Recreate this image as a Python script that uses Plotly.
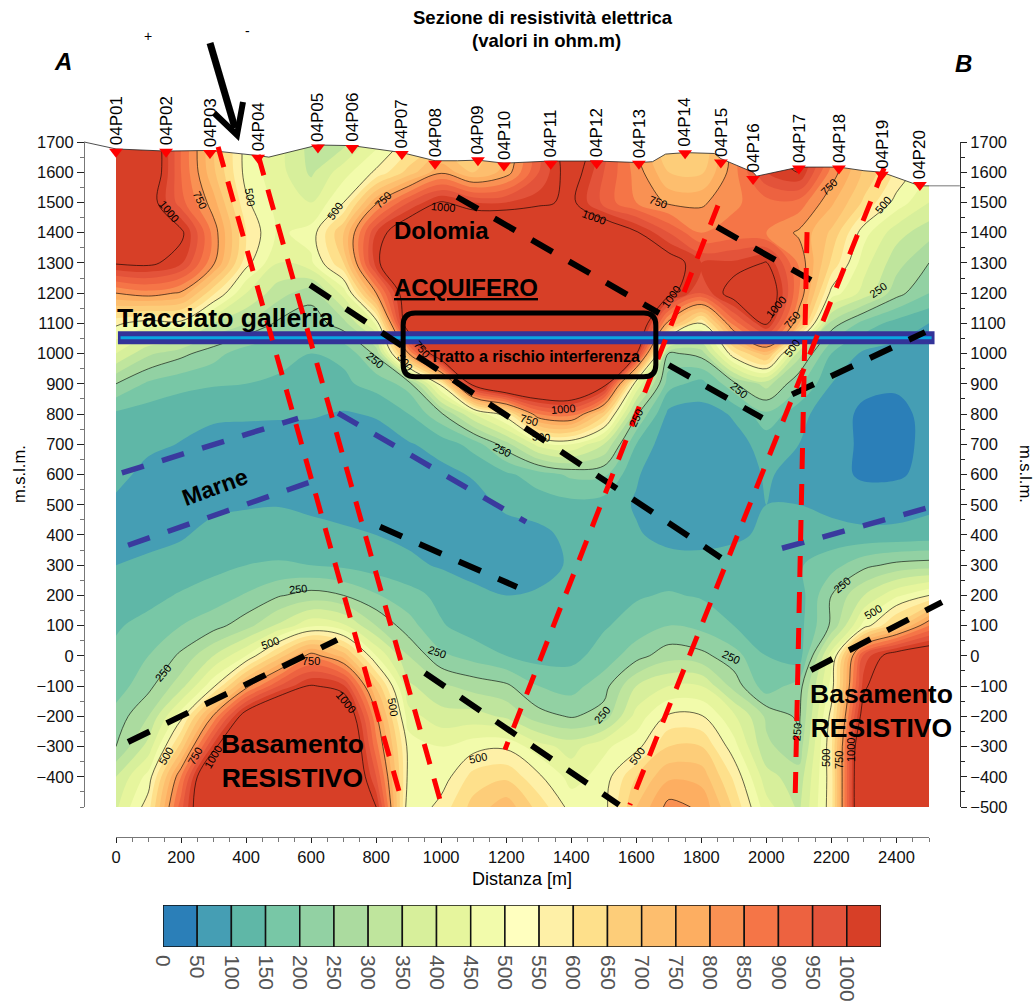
import plotly.graph_objects as go

W, H = 1034, 1005
FONT = "Liberation Sans"

# ---- data ----
DIST = list(range(0, 2600, 100))
ELEV = list(range(1700, -600, -100))
RES = [
 [1200,1100,850,650,480,420,330,330,430,520,600,620,680,900,1080,950,740,600,600,780,1000,1020,850,640,560,480],
 [1200,1100,850,660,480,420,340,430,510,620,740,650,720,900,1050,900,780,650,640,780,950,1000,780,640,540,450],
 [1200,1050,870,720,510,430,400,500,740,900,1010,950,950,980,1020,880,800,740,740,790,830,830,710,590,480,400],
 [1200,1100,1020,780,550,440,470,650,950,1100,1150,1150,1150,1150,1150,1100,1010,900,800,820,800,740,640,470,370,320],
 [1010,1020,960,760,520,400,440,600,980,1150,1200,1200,1200,1200,1200,1200,1150,1050,950,960,1005,790,590,420,320,250],
 [750,780,740,560,400,320,270,420,750,1100,1200,1200,1200,1200,1200,1200,1200,1030,900,1050,1100,800,480,380,270,200],
 [510,470,480,350,300,240,220,280,460,1100,1200,1200,1200,1200,1200,1200,1150,720,500,820,1010,700,280,180,130,100],
 [400,310,265,220,170,160,150,160,260,750,1130,1200,1200,1200,1200,1200,1010,240,270,540,680,320,150,90,80,70],
 [250,190,165,155,150,145,135,140,170,220,520,1050,1200,1200,1200,1050,450,170,130,240,320,210,100,62,55,65],
 [140,125,115,105,105,105,105,95,105,150,240,400,530,800,830,620,260,85,80,105,190,115,72,40,40,60],
 [125,110,98,90,85,80,75,70,75,95,120,170,280,420,450,350,150,60,60,85,115,100,72,40,40,58],
 [115,85,75,70,70,70,70,70,70,75,85,105,140,175,210,210,105,65,60,75,105,85,62,44,44,62],
 [90,80,80,90,95,98,88,80,75,70,75,80,110,125,135,125,95,70,70,80,100,100,85,70,75,90],
 [80,85,95,115,125,125,120,110,100,90,85,80,78,85,115,120,105,85,80,90,110,120,120,115,115,120],
 [100,110,120,135,150,155,150,140,125,110,95,85,80,85,105,120,125,120,120,125,130,145,180,235,265,275],
 [120,135,155,175,205,245,270,250,205,170,135,110,100,105,110,125,145,155,145,130,115,125,250,350,440,500],
 [145,165,200,230,280,360,440,410,300,220,155,125,110,105,120,145,170,200,185,150,115,130,260,470,620,800],
 [160,200,260,350,450,620,780,680,450,300,210,180,150,130,135,170,230,280,265,220,150,120,430,920,1060,1100],
 [175,235,330,490,730,900,1010,960,640,360,310,280,260,200,180,230,350,400,400,280,170,225,470,980,1150,1200],
 [220,300,480,760,1060,1200,1200,1130,760,420,370,370,340,270,245,270,420,510,505,410,290,240,520,1060,1300,1300],
 [250,370,620,970,1250,1300,1300,1200,820,480,450,480,490,420,380,440,480,600,600,470,310,270,540,1170,1300,1300],
 [350,470,800,1200,1300,1300,1300,1200,900,480,470,570,590,510,430,470,600,690,680,540,370,320,530,1200,1300,1300],
 [390,530,880,1200,1300,1300,1300,1200,1000,450,520,620,680,580,480,480,650,770,740,590,420,340,530,1200,1300,1300],
]

LEVELS = list(range(0, 1050, 50))
LEVEL_COLORS = ["#2b7fb8","#459eb4","#5fb7a7","#78c7a6","#92d1a3","#abdb9f","#bfe59d",
                "#d7ef9b","#e6f59d","#f2fbab","#ffffbf","#fef0a7","#fee08b","#fdcd79",
                "#fdbe6e","#fdae61","#f99153","#f57547","#ed6240","#e3533a","#d73f27"]

STATIONS = ["04P%02d" % i for i in range(1, 21)]
STATION_X = [0,154,289,437,621,726,879,981,1113,1193,1337,1478,1608,1750,1860,1959,2100,2223,2355,2472]
STATION_Z = [1668,1668,1664,1648,1682,1680,1660,1628,1640,1622,1628,1630,1628,1663,1632,1578,1612,1612,1592,1558]

TOPO_X = [-98,0,154,289,437,470,621,726,879,981,1050,1113,1193,1337,1478,1608,1650,1690,1750,1840,1860,1959,1970,2100,2223,2300,2355,2472,2500]
TOPO_Z = [1700,1677,1670,1672,1655,1650,1690,1688,1665,1638,1638,1640,1630,1637,1637,1632,1635,1660,1665,1662,1645,1600,1587,1617,1617,1605,1600,1555,1555]

FAULTS_RED = [([314,882],[1684,-493]),([437,1005],[1657,-510]),([1851,1196],[1490,-310]),
              ([2362,1580],[1614,-493]),([2125,2088],[1402,-493])]
LIMITS_BLACK = [([1049,1670],[1518,1134]),([1848,2137],[1419,1243]),([597,1860],[1227,325]),
                ([1700,1987],[962,787]),([2079,2488],[865,1071]),([812,1233],[427,228]),
                ([37,680],[-285,53]),([950,1547],[-57,-493]),([2137,2540],[-47,178])]
LIMITS_BLUE = [([18,560],[605,786]),([37,603],[366,577]),([683,1261],[803,443]),([2048,2494],[356,489])]
TUNNEL_X, TUNNEL_Z = [6,2517], [1052,1052]
TUNNEL_CORE_X = [14,2508]

# contour labels as seen on the picture: page x, page y, text, angle
CONTOUR_LABELS = [
 (169,211,"1000",50),(200,200,"750",65),(250,197,"500",82),(335,211,"500",-55),(383,200,"750",-45),
 (443,207,"1000",5),(658,202,"750",20),(594,217,"1000",20),(671,297,"1000",-55),(776,307,"1000",-50),
 (792,320,"750",-50),(829,187,"750",-45),(883,205,"500",-50),(878,290,"250",-35),(375,360,"250",40),
 (405,362,"500",55),(422,349,"750",50),(502,450,"250",25),(298,589,"250",-5),(270,643,"500",-20),
 (311,661,"750",0),(437,652,"250",20),(163,673,"250",-50),(166,756,"500",-60),(195,756,"750",-60),
 (213,757,"1000",-60),(346,702,"1000",50),(393,707,"500",80),(478,758,"500",-12),(563,409,"1000",-5),
 (529,420,"750",15),(541,437,"500",5),(636,418,"250",-65),(739,390,"250",40),(792,348,"500",-55),
 (842,585,"250",-40),(873,612,"500",-30),(731,657,"250",25),(602,715,"250",-50),(637,756,"500",-55),
 (797,732,"250",-85),(826,758,"500",-90),(839,760,"750",-90),(851,750,"1000",-90),
]

# ---- helpers for page positions ----
def px(x): return x / W
def py(y): return 1 - y / H
SX = 813 / 2500       # pixels per metre, horizontal
SY = 665 / 2200       # pixels per metre, vertical
def mx(p): return (p - 116) / SX
def my(p): return 1700 - (p - 142) / SY

fig = go.Figure()

n = len(LEVEL_COLORS)
cscale = []
for i, c in enumerate(LEVEL_COLORS):
    cscale += [[i / n, c], [(i + 1) / n, c]]

fig.add_trace(go.Contour(
    x=DIST, y=ELEV, z=RES, colorscale=cscale, zmin=0, zmax=1050, showscale=False,
    autocontour=False, contours=dict(start=0, end=1000, size=50, coloring="fill", showlines=False),
    line=dict(width=0, smoothing=1), hoverinfo="skip"))
fig.add_trace(go.Contour(
    x=DIST, y=ELEV, z=RES, showscale=False, autocontour=False,
    contours=dict(start=250, end=1000, size=250, coloring="none", showlabels=False),
    line=dict(width=0.6, color="black", smoothing=1), hoverinfo="skip"))

# white mask above the ground surface
mask_x = [a for a in TOPO_X if a >= 0]
mask_z = TOPO_Z[-len(mask_x):]
fig.add_trace(go.Scatter(x=mask_x + [2500, 0], y=mask_z + [1725, 1725], mode="lines",
                         fill="toself", fillcolor="white", line=dict(width=0), hoverinfo="skip"))
fig.add_trace(go.Scatter(x=TOPO_X, y=TOPO_Z, mode="lines", line=dict(color="#222", width=0.8), hoverinfo="skip"))
fig.add_trace(go.Scatter(x=[2500, 2595], y=[1555, 1555], mode="lines", line=dict(color="#777", width=1), hoverinfo="skip"))

def dashes(lines, color, width, dash):
    for xs, zs in lines:
        fig.add_trace(go.Scatter(x=xs, y=zs, mode="lines", hoverinfo="skip",
                                 line=dict(color=color, width=width, dash=dash)))

fig.add_trace(go.Scatter(x=TUNNEL_X, y=TUNNEL_Z, mode="lines", hoverinfo="skip", line=dict(color="#333399", width=13)))
fig.add_trace(go.Scatter(x=TUNNEL_CORE_X, y=TUNNEL_Z, mode="lines", hoverinfo="skip", line=dict(color="#0aa5e0", width=3)))
dashes(LIMITS_BLUE, "#3a3a9e", 5.5, "23px,19px")
dashes(LIMITS_BLACK, "black", 6, "24px,19px")
dashes(FAULTS_RED, "#ff0000", 5, "21px,15px")

fig.add_trace(go.Scatter(x=STATION_X, y=STATION_Z, mode="markers", hoverinfo="skip",
                         marker=dict(symbol="triangle-down", color="#ff0000", size=12, line=dict(width=0))))

# colour scale bar
fig.add_trace(go.Bar(x=[v + 25 for v in LEVELS], y=[1] * n, width=50, xaxis="x2", yaxis="y2",
                     marker=dict(color=LEVEL_COLORS, line=dict(color="#111", width=1.5)), hoverinfo="skip"))

ann = []
def text(x, y, s, size, bold=False, italic=False, color="black", xanchor="center", yanchor="middle", angle=0, align="center"):
    if bold: s = "<b>%s</b>" % s
    if italic: s = "<i>%s</i>" % s
    ann.append(dict(xref="paper", yref="paper", x=px(x), y=py(y), text=s, showarrow=False, textangle=angle,
                    xanchor=xanchor, yanchor=yanchor, align=align, borderpad=0,
                    font=dict(family=FONT, size=size, color=color)))

for lx, ly, s, a in CONTOUR_LABELS:
    text(lx, ly, s, 11, angle=a)

text(543, 18, "Sezione di resistività elettrica", 18.5, bold=True)
text(546, 40, "(valori in ohm.m)", 18.5, bold=True)
text(63, 61, "A", 24, bold=True, italic=True)
text(963, 64, "B", 24, bold=True, italic=True)
text(148, 36, "+", 14)
text(247, 31, "-", 14)
text(393, 230, "Dolomia", 24, bold=True, xanchor="left")
text(393, 287, "<u>ACQUIFERO</u>", 24, bold=True, xanchor="left")
text(116, 318, "Tracciato galleria", 26.5, bold=True, xanchor="left")
text(429, 356, "Tratto a rischio interferenza", 16, bold=True, xanchor="left")
text(215, 487, "Marne", 23, bold=True, angle=-20)
text(292, 761, "Basamento<br>RESISTIVO", 26.5, bold=True)
text(881, 711, "Basamento<br>RESISTIVO", 26.5, bold=True)
text(522, 879, "Distanza [m]", 18)
text(19, 474, "m.s.l.m.", 16.5, angle=-90)
text(1026, 474, "m.s.l.m.", 16.5, angle=90)

for name, sx, sz in zip(STATIONS, STATION_X, STATION_Z):
    ann.append(dict(x=sx, y=sz, xref="x", yref="y", text=name, showarrow=False, textangle=-90,
                    xanchor="center", yanchor="bottom", yshift=5, borderpad=0,
                    font=dict(family=FONT, size=17, color="black")))

def P(x, y): return "%.4f %.4f" % (px(x), py(y))
shapes = [
    dict(type="line", xref="paper", yref="paper", x0=px(210), y0=py(43), x1=px(235), y1=py(128),
         line=dict(color="black", width=7)),
    dict(type="path", xref="paper", yref="paper",
         path="M %s L %s L %s" % (P(214, 113), P(237, 135), P(243, 102)),
         line=dict(color="black", width=6)),
    dict(type="path", xref="x", yref="y", layer="above",
         path="M 920 1134 L 1623 1134 Q 1660 1134 1660 1094 L 1660 963 Q 1660 923 1623 923 "
              "L 920 923 Q 883 923 883 963 L 883 1094 Q 883 1134 920 1134 Z",
         line=dict(color="black", width=5)),
]

tickfont = dict(family=FONT, size=16.5, color="#111")
AX = "#777"
left_vals = list(range(1700, -500, -100))
right_vals = list(range(1700, -600, -100))
fig.update_layout(
    width=W, height=H, autosize=False, margin=dict(l=0, r=0, t=0, b=0, autoexpand=False),
    paper_bgcolor="white", plot_bgcolor="rgba(0,0,0,0)", showlegend=False, annotations=ann, shapes=shapes,
    # wide hidden axes that carry the section, with the same scale as the drawn axes
    xaxis=dict(domain=[px(60), px(975)], range=[mx(60), mx(975)], visible=False),
    yaxis=dict(domain=[py(830), py(100)], range=[my(830), my(100)], visible=False),
    # drawn axes
    xaxis3=dict(domain=[px(116), px(929)], range=[0, 2500], anchor="free", position=py(837), side="bottom",
                tickmode="array", tickvals=list(range(0, 2600, 200)), ticks="outside", ticklen=5, tickcolor="#222",
                minor=dict(dtick=50, tick0=0, ticks="outside", ticklen=4, tickcolor=AX),
                showline=True, linecolor=AX, linewidth=1, showgrid=False, zeroline=False, tickfont=tickfont),
    yaxis3=dict(domain=[py(807), py(142)], range=[-500, 1700], anchor="free", position=px(84), side="left",
                tickmode="array", tickvals=left_vals, ticks="outside", ticklen=7, tickcolor="#222",
                minor=dict(dtick=50, tick0=0, ticks="outside", ticklen=4, tickcolor=AX),
                showline=True, linecolor=AX, linewidth=1, showgrid=False, zeroline=False, tickfont=tickfont),
    yaxis4=dict(domain=[py(807), py(142)], range=[-500, 1700], overlaying="y3", anchor="free", position=px(960), side="right",
                tickmode="array", tickvals=right_vals, ticks="outside", ticklen=6, tickcolor="#222",
                minor=dict(dtick=50, tick0=0, ticks="outside", ticklen=4, tickcolor="#222"),
                showline=True, linecolor="#333", linewidth=1, showgrid=False, zeroline=False, tickfont=tickfont),
    xaxis2=dict(domain=[px(163), px(881)], range=[0, 1050], anchor="y2", tickmode="array",
                tickvals=LEVELS, ticktext=[str(v) for v in LEVELS], tickangle=90, ticks="", showgrid=False,
                zeroline=False, showline=False, ticklabelstandoff=7, tickfont=dict(family=FONT, size=21, color="#555")),
    yaxis2=dict(domain=[py(947), py(905)], range=[0, 1], anchor="x2", visible=False),
)
# invisible traces so the drawn axes appear
for ya in ("y3", "y4"):
    fig.add_trace(go.Scatter(x=[0], y=[1700], xaxis="x3", yaxis=ya, mode="markers",
                             marker=dict(opacity=0), hoverinfo="skip"))

fig.write_html("out.html", config={"displayModeBar": False}, post_script="document.body.style.margin='0';")
